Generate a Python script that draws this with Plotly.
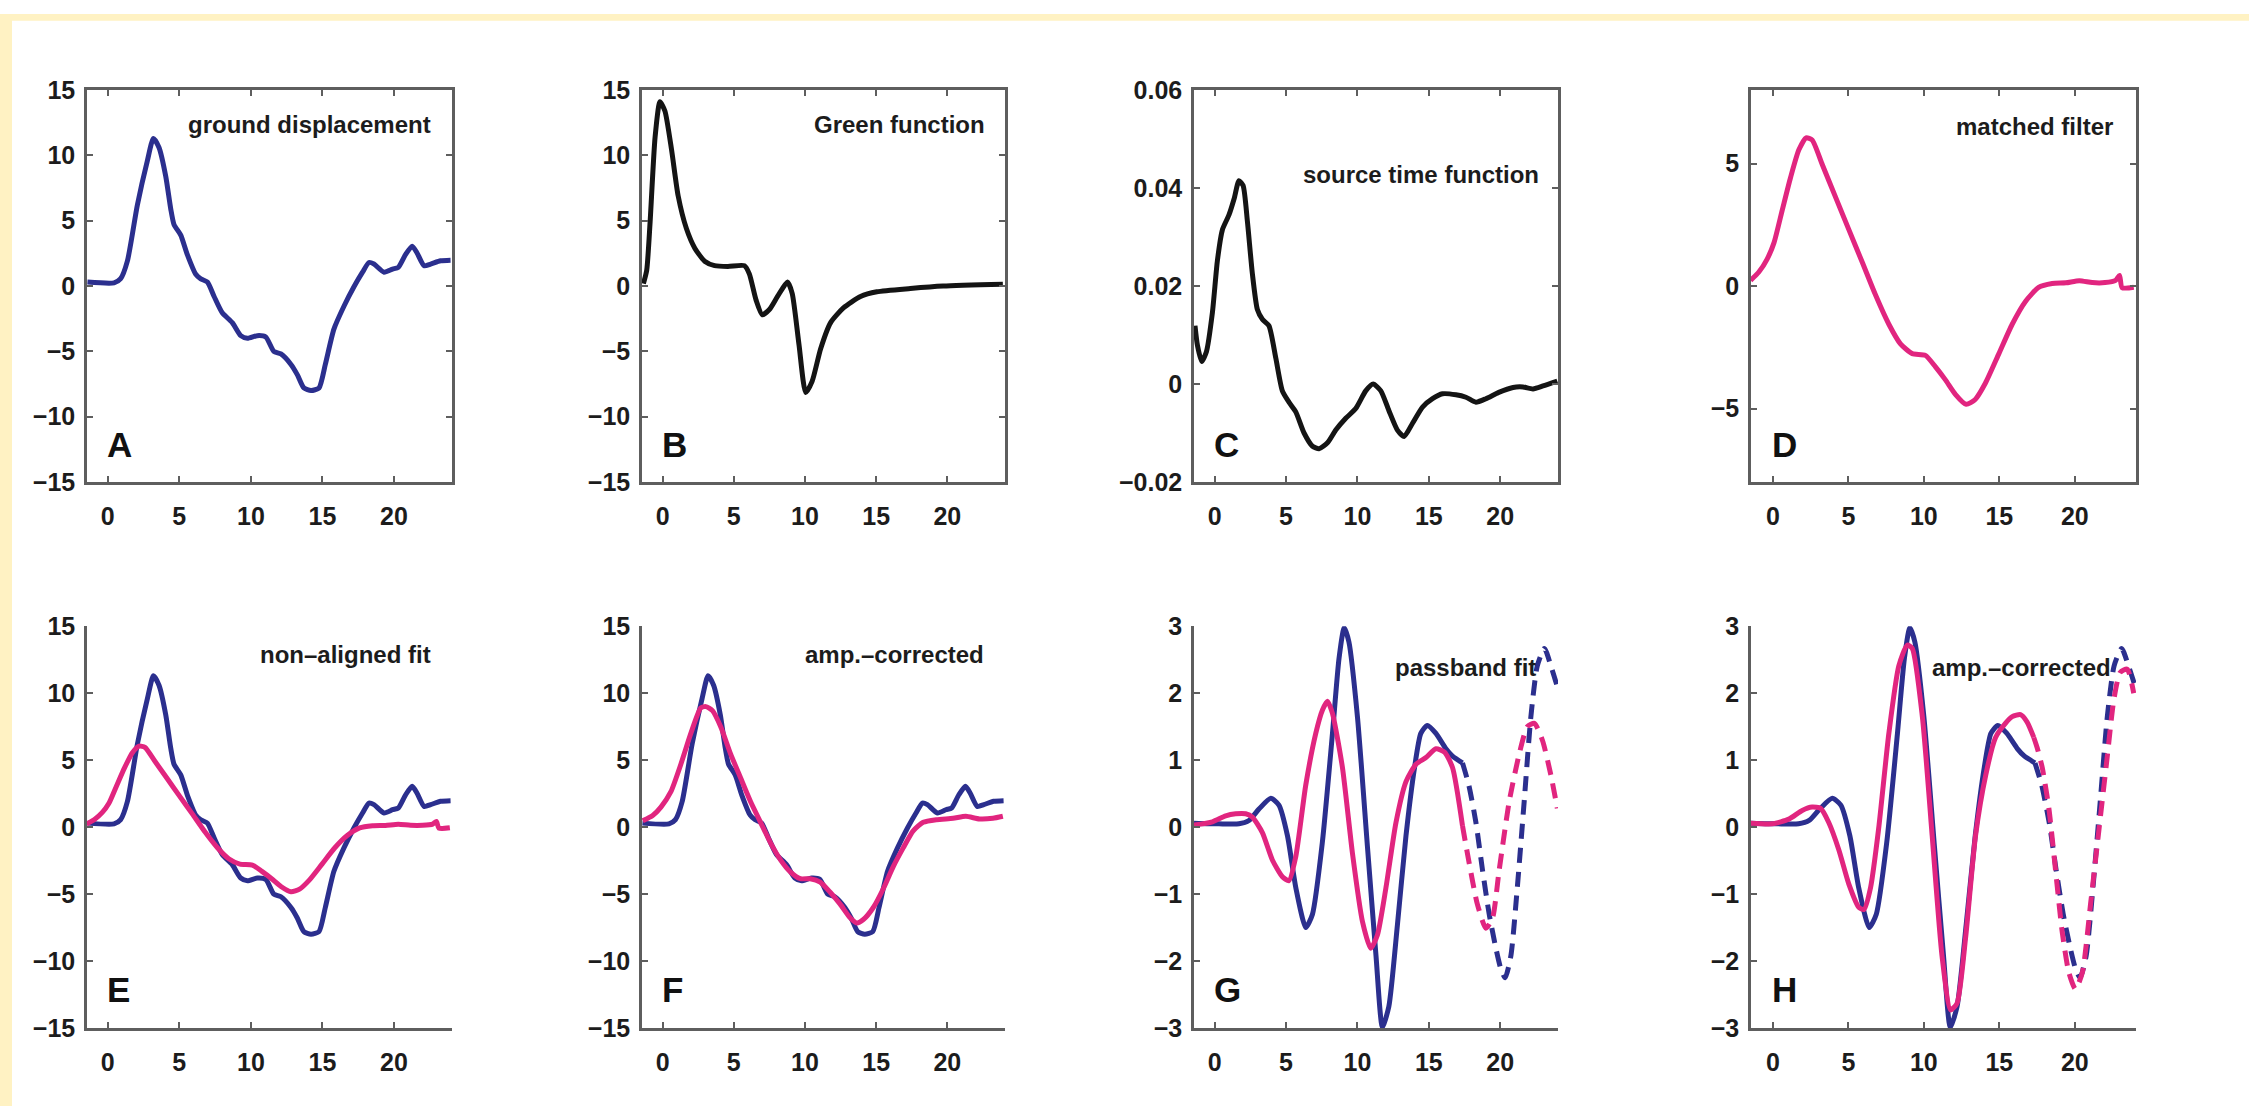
import plotly.graph_objects as go

# ---------------------------------------------------------------- data
# ground displacement (observed record)
disp_t = [-1.42, 0.44, 0.9, 1.37, 2.07, 2.77, 3.19, 3.58, 4.05, 4.4, 4.63, 5.1, 5.56, 6.15,
          6.5, 6.96, 7.43, 8.0, 8.7, 9.29, 9.76, 10.45, 11.04, 11.6, 12.1, 12.8, 13.25,
          13.7, 14.2, 14.76, 15.2, 15.8, 16.5, 17.2, 17.8, 18.25, 18.6, 19.3, 19.9, 20.3,
          20.8, 21.27, 21.6, 22.1, 22.56, 23.25, 23.95]
disp_v = [0.3, 0.24, 0.56, 1.9, 6.2, 9.6, 11.3, 10.6, 8.4, 5.9, 4.7, 3.9, 2.4, 0.9,
          0.55, 0.3, -0.8, -2.05, -2.8, -3.8, -4.0, -3.8, -3.9, -5.0, -5.2, -6.0, -6.8,
          -7.8, -8.0, -7.8, -6.0, -3.3, -1.55, -0.06, 1.06, 1.8, 1.68, 1.06, 1.3, 1.43,
          2.4, 3.05, 2.55, 1.55, 1.68, 1.93, 1.98]

# Green function
green_t = [-1.35, -1.12, -0.88, -0.53, -0.19, 0.16, 0.63, 1.09, 1.67, 2.26, 2.95, 3.65,
           4.58, 5.74, 6.09, 6.56, 7.0, 7.5, 8.07, 8.77, 9.1, 9.58, 10.05, 10.5, 11.1,
           11.8, 12.7, 13.9, 15.05, 17.4, 19.7, 23.9]
green_v = [0.19, 1.2, 4.9, 11.4, 14.1, 13.4, 10.4, 6.9, 4.4, 2.9, 1.9, 1.56,
           1.5, 1.56, 0.93, -1.06, -2.2, -1.8, -0.8, 0.3, -0.56, -4.5, -8.15, -7.3, -4.8,
           -2.8, -1.68, -0.8, -0.44, -0.19, 0.0, 0.14]

# source time function
stf_t = [-1.38, -1.21, -0.91, -0.58, -0.16, 0.19, 0.54, 1.0, 1.36, 1.7, 1.99, 2.29, 2.64,
         2.99, 3.34, 3.8, 4.28, 4.74, 5.2, 5.68, 6.26, 6.85, 7.31, 7.9, 8.48, 9.18, 9.88,
         10.58, 11.1, 11.64, 12.2, 12.8, 13.27, 13.86, 14.56, 15.26, 15.96, 16.9, 17.6,
         18.3, 19.0, 19.9, 20.9, 21.6, 22.3, 23.0, 24.0]
stf_v = [0.0119, 0.0079, 0.0046, 0.0066, 0.0146, 0.0252, 0.0315, 0.0345, 0.0378, 0.0415,
         0.0405, 0.0332, 0.0225, 0.0152, 0.0132, 0.0119, 0.0053, -0.0014, -0.0037,
         -0.0057, -0.01, -0.0127, -0.0132, -0.012, -0.0094, -0.007, -0.005, -0.0014, 0.0,
         -0.0014, -0.0054, -0.0094, -0.0107, -0.008, -0.0047, -0.003, -0.002, -0.0022,
         -0.0027, -0.0037, -0.003, -0.0017, -0.0007, -0.0006, -0.001, -0.0004, 0.0006]

# matched filter (synthetic)
mf_t = [-1.48, -0.93, -0.38, 0.07, 0.62, 1.17, 1.72, 2.2, 2.6, 3.27, 4.15, 5.03, 5.92, 6.8,
        7.68, 8.45, 9.23, 10.1, 10.77, 11.43, 12.1, 12.8, 13.4, 14.08, 14.97, 15.85,
        16.73, 17.6, 18.5, 19.4, 20.3, 21.15, 22.0, 22.7, 22.96, 23.13, 23.9]
mf_v = [0.23, 0.57, 1.1, 1.76, 3.1, 4.43, 5.56, 6.05, 5.96, 4.96, 3.63, 2.3, 0.97, -0.37,
        -1.56, -2.36, -2.76, -2.83, -3.3, -3.83, -4.43, -4.83, -4.63, -3.96, -2.76, -1.56,
        -0.63, -0.06, 0.1, 0.13, 0.22, 0.14, 0.14, 0.23, 0.43, -0.07, -0.05]

# amplitude-corrected synthetic
amp_t = [-1.4, -0.7, -0.12, 0.58, 1.28, 1.98, 2.68, 3.03, 3.5, 4.08, 4.78, 5.48, 6.18, 6.88,
         7.58, 8.28, 8.97, 9.67, 10.37, 11.07, 11.77, 12.47, 13.17, 13.64, 14.1, 14.8,
         15.5, 16.2, 16.9, 17.6, 18.3, 19.23, 20.4, 21.3, 22.26, 23.2, 23.9]
amp_v = [0.48, 0.87, 1.5, 2.65, 4.7, 7.0, 8.9, 9.0, 8.7, 7.5, 5.45, 3.67, 1.9, 0.36,
         -1.17, -2.44, -3.34, -3.85, -3.85, -4.1, -4.86, -5.75, -6.77, -7.16, -6.9, -6.0,
         -4.6, -2.95, -1.55, -0.28, 0.36, 0.56, 0.66, 0.81, 0.61, 0.66, 0.81]

# passband-filtered observation
pb_obs_t = [-1.45, 0.3, 1.7, 2.4, 3.1, 3.93, 4.5, 5.1, 5.68, 6.38, 6.85, 7.54, 8.25, 8.71,
            9.07, 9.4, 10.0, 10.7, 11.3, 11.75, 12.2, 12.8, 13.4, 14.0, 14.44, 14.9, 15.5,
            16.2, 16.66, 17.36, 17.8, 18.3, 18.76, 19.23, 19.7, 20.05, 20.35, 20.75, 21.2,
            21.68, 22.15, 22.6, 23.1, 23.55, 24.0]
pb_obs_v = [0.06, 0.05, 0.05, 0.1, 0.27, 0.43, 0.33, -0.13, -0.9, -1.5, -1.3, -0.23, 1.4,
            2.52, 2.98, 2.77, 1.65, -0.29, -1.92, -2.99, -2.68, -1.46, -0.13, 0.89, 1.4,
            1.52, 1.4, 1.17, 1.06, 0.96, 0.63, 0.07, -0.64, -1.3, -1.81, -2.12, -2.25,
            -1.92, -0.9, 0.38, 1.65, 2.41, 2.67, 2.41, 2.1]

# passband-filtered synthetic, non-aligned
pb_fit_t = [-1.45, -0.16, 0.77, 1.47, 2.17, 2.64, 3.34, 4.04, 4.74, 5.2, 5.68, 6.38, 7.08,
            7.55, 7.9, 8.25, 8.95, 9.65, 10.35, 10.93, 11.4, 12.0, 12.7, 13.4, 14.1, 14.8,
            15.5, 16.1, 16.66, 17.36, 17.83, 18.4, 19.0, 19.46, 19.93, 20.63, 21.33, 21.9,
            22.4, 22.97, 23.55, 24.0]
pb_fit_v = [0.03, 0.08, 0.17, 0.2, 0.2, 0.15, -0.08, -0.49, -0.74, -0.8, -0.44, 0.63, 1.4,
            1.75, 1.88, 1.7, 0.89, -0.39, -1.41, -1.81, -1.61, -0.9, 0.07, 0.68, 0.94, 1.04,
            1.17, 1.12, 0.89, 0.02, -0.54, -1.15, -1.51, -1.36, -0.64, 0.38, 1.09, 1.5,
            1.55, 1.29, 0.78, 0.28]

# passband-filtered synthetic, amplitude-corrected
pb_amp_t = [-1.48, -0.04, 1.06, 1.94, 2.6, 3.16, 3.7, 4.37, 5.03, 5.7, 6.03, 6.47, 7.0,
            7.68, 8.34, 8.9, 9.23, 9.9, 10.55, 11.2, 11.77, 12.2, 12.76, 13.42, 14.1, 14.75,
            15.4, 15.85, 16.4, 16.84, 17.28, 17.5, 17.84, 18.28, 18.72, 19.16, 19.6, 20.04,
            20.5, 21.04, 21.6, 22.14, 22.58, 23.0, 23.47, 23.9]
pb_amp_v = [0.06, 0.05, 0.12, 0.25, 0.3, 0.28, 0.07, -0.34, -0.85, -1.2, -1.23, -0.9, -0.03,
            1.4, 2.41, 2.72, 2.67, 1.65, -0.13, -1.92, -2.73, -2.63, -1.66, -0.13, 0.78,
            1.34, 1.55, 1.65, 1.68, 1.57, 1.34, 1.19, 0.89, 0.28, -0.64, -1.56, -2.17,
            -2.42, -2.17, -1.15, -0.03, 1.04, 1.9, 2.31, 2.36, 2.0]

fit_window_end = 17.4   # solid up to here, dashed beyond

panel_titles = ["ground displacement", "Green function", "source time function",
                "matched filter", "non\u2013aligned fit", "amp.\u2013corrected",
                "passband fit", "amp.\u2013corrected"]
panel_letters = ["A", "B", "C", "D", "E", "F", "G", "H"]

x_ticks = [0, 5, 10, 15, 20]
y_ticks_15 = [-15, -10, -5, 0, 5, 10, 15]
y_ticks_stf = [-0.02, 0, 0.02, 0.04, 0.06]
y_ticks_mf = [-5, 0, 5]
y_ticks_pb = [-3, -2, -1, 0, 1, 2, 3]

# ---------------------------------------------------------------- style
W, H = 2249, 1120
BLUE = "#2b2f8e"
PINK = "#e1257f"
BLACK = "#141414"
AXIS = "#5e5e5e"
TXT = "#1c1c1c"
FONT = "Liberation Sans, Arial, sans-serif"
LW = 5

col_px = [(87, 452), (642, 1005), (1194, 1558), (1751, 2136)]
row_px = [(78, 480), (628, 1040)]


def ax_id(idx):
    return "" if idx == 1 else str(idx)


def fmt(v):
    if v == 0:
        return "0"
    s = ("%g" % abs(v))
    return ("\u2212" if v < 0 else "") + s


fig = go.Figure()


def split(t, v, cut):
    st = [a for a in t if a <= cut]
    sv = v[:len(st)]
    dt = t[len(st) - 1:]
    dv = v[len(st) - 1:]
    return st, sv, dt, dv


def add_line(idx, t, v, color, dash="solid"):
    fig.add_trace(go.Scatter(
        x=t, y=v, mode="lines", xaxis="x" + ax_id(idx), yaxis="y" + ax_id(idx),
        line=dict(color=color, width=LW, shape="spline", smoothing=0.6, dash=dash),
        showlegend=False, hoverinfo="skip"))


def add_pass(idx, t, v, color):
    st, sv, dt, dv = split(t, v, fit_window_end)
    add_line(idx, st, sv, color)
    add_line(idx, dt, dv, color, dash="15px,9px")


# top row
add_line(1, disp_t, disp_v, BLUE)
add_line(2, green_t, green_v, BLACK)
add_line(3, stf_t, stf_v, BLACK)
add_line(4, mf_t, mf_v, PINK)
# bottom row
add_line(5, disp_t, disp_v, BLUE)
add_line(5, mf_t, mf_v, PINK)
add_line(6, disp_t, disp_v, BLUE)
add_line(6, amp_t, amp_v, PINK)
add_pass(7, pb_obs_t, pb_obs_v, BLUE)
add_pass(7, pb_fit_t, pb_fit_v, PINK)
add_pass(8, pb_obs_t, pb_obs_v, BLUE)
add_pass(8, pb_amp_t, pb_amp_v, PINK)

y_cfg = [
    ([-15, 15], y_ticks_15), ([-15, 15], y_ticks_15), ([-0.02, 0.06], y_ticks_stf),
    ([-8, 8], y_ticks_mf), ([-15, 15], y_ticks_15), ([-15, 15], y_ticks_15),
    ([-3, 3], y_ticks_pb), ([-3, 3], y_ticks_pb)]

layout = dict(width=W, height=H, margin=dict(l=0, r=0, t=0, b=0),
              paper_bgcolor="white", plot_bgcolor="white", showlegend=False)

tick_font = dict(family=FONT, size=25, color=TXT, weight="bold")
title_pos = [(0.948, 0.913), (0.95, 0.913), (0.953, 0.784), (0.945, 0.908),
             (0.948, 0.93), (0.948, 0.93), (0.945, 0.898), (0.94, 0.898)]
annotations = []
for i in range(8):
    idx = i + 1
    a = ax_id(idx)
    r, c = divmod(i, 4)
    x0, x1 = col_px[c]
    y0, y1 = row_px[r]
    boxed = r == 0
    yr, yt = y_cfg[i]
    layout["xaxis" + a] = dict(
        domain=[x0 / W, x1 / W], anchor="y" + a, range=[-1.45, 24.05],
        tickvals=x_ticks, ticktext=[fmt(v) for v in x_ticks], ticks="inside",
        ticklen=6, tickwidth=2, tickcolor=AXIS, showline=True, linecolor=AXIS,
        linewidth=2.5, mirror="ticks" if boxed else False, showgrid=False,
        zeroline=False, tickfont=tick_font, ticklabelstandoff=10, fixedrange=True)
    layout["yaxis" + a] = dict(
        domain=[1 - y1 / H, 1 - y0 / H], anchor="x" + a, range=yr,
        tickvals=yt, ticktext=[fmt(v) for v in yt], ticks="inside",
        ticklen=6, tickwidth=2, tickcolor=AXIS, showline=True, linecolor=AXIS,
        linewidth=2.5, mirror="ticks" if boxed else False, showgrid=False,
        zeroline=False, tickfont=tick_font, ticklabelstandoff=4, fixedrange=True)
    tx, ty = title_pos[i]
    annotations.append(dict(
        text=panel_titles[i], xref="x%s domain" % a, yref="y%s domain" % a,
        x=tx, y=ty, xanchor="right", yanchor="middle", showarrow=False,
        font=dict(family=FONT, size=24, color=TXT, weight="bold")))
    annotations.append(dict(
        text=panel_letters[i], xref="x%s domain" % a, yref="y%s domain" % a,
        x=0.05, y=0.095, xanchor="left", yanchor="middle", showarrow=False,
        font=dict(family=FONT, size=35, color="#111111", weight="bold")))

layout["annotations"] = annotations
layout["shapes"] = [
    dict(type="rect", xref="paper", yref="paper", x0=0, x1=1, y0=1 - 7 / H, y1=1,
         fillcolor="#fff2c3", line=dict(width=0), layer="below"),
    dict(type="rect", xref="paper", yref="paper", x0=0, x1=12 / W, y0=0, y1=1,
         fillcolor="#fff2c3", line=dict(width=0), layer="below"),
]

fig.update_layout(**layout)
fig.write_html("out.html")
